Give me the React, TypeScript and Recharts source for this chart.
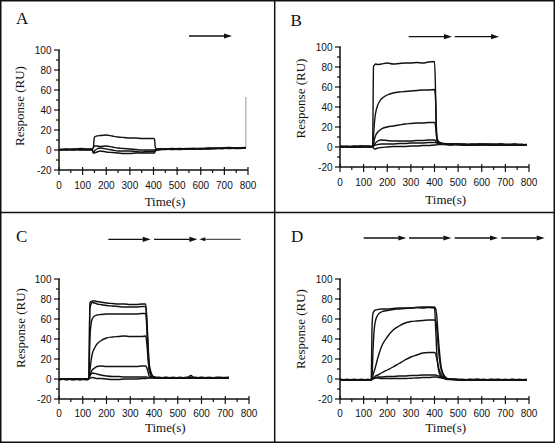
import { LineChart, Line, XAxis, YAxis, ReferenceLine } from "recharts";

// ---- data (time in s, response in RU) ----
const X_TICKS = [0, 50, 100, 150, 200, 250, 300, 350, 400, 450, 500, 550, 600, 650, 700, 750, 800];
const Y_TICKS = [-20, -10, 0, 10, 20, 30, 40, 50, 60, 70, 80, 90, 100];

const timesA = [0, 30, 60, 90, 120, 140, 145, 150, 160, 175, 200, 225, 250, 275, 300, 325, 350, 375, 400, 404, 408, 420, 450, 480, 510, 540, 570, 600, 630, 660, 690, 720, 750, 790];
const a1 = [0.5, 1, 0.5, 1.5, 1, 1, 2, 13, 14, 14.5, 15, 14, 13, 12.5, 12, 12, 11.5, 11.5, 11.5, 11, 2, 1, 1, 1.5, 1, 1.5, 1.5, 1, 2, 1.5, 2, 2.5, 2, 2.5];
const a2 = [0, 0.5, 0, 1, 0.5, 0.5, 2, 4, 4, 3.5, 4, 3, 2, 1.5, 1, 0.5, 0, 0, 0, 0, 0.5, 1, 1, 1, 1.5, 1, 1.5, 1.5, 1.5, 2, 1.5, 2, 2, 2];
const a3 = [0.5, 0, 1, 0.5, 0, 0.5, -3, -1, 1, 2, 1, 0, -1, -1, -1, -1.5, -2, -1.5, -1.5, -1.5, 0, 0.5, 1, 0.5, 1, 1, 1, 1.5, 1, 1.5, 2, 1.5, 2, 2];
const a4 = [0, 0.5, 0.5, 0, 0.5, 0, -2, -3, -2, -1, -2, -2.5, -3, -3.5, -3.5, -3, -3, -3, -3, -3, -1, 0, 0.5, 1, 0.5, 1, 1, 1, 1.5, 1.5, 1.5, 2, 1.5, 2];

const timesB = [0, 30, 60, 90, 120, 138, 142, 146, 150, 160, 175, 200, 225, 250, 275, 300, 325, 350, 375, 400, 404, 408, 412, 420, 440, 470, 500, 530, 560, 590, 620, 650, 680, 710, 740, 770, 790];
const b1 = [0.5, 0, 1, 0, 0.5, 1, 81, 82, 83, 82.5, 83, 84, 83, 83.5, 84, 84, 84.5, 84, 85, 85.5, 60, 15, 6, 4, 3, 3, 2.5, 3, 2, 3, 2.5, 2, 3, 2.5, 2, 2.5, 2];
const b2 = [0, 0.5, 0, 1, 0, 0.5, 12, 25, 33, 42, 48, 52, 54, 55, 55.5, 56, 56.5, 57, 57, 57.5, 50, 20, 8, 5, 3.5, 3, 2.5, 2.5, 3, 2, 2.5, 3, 2, 2.5, 3, 2, 2.5];
const b3 = [1, 0.5, 0, 0.5, 1, 0, 3, 8, 11, 15, 18, 20, 21, 22, 23, 23.5, 24, 24, 24.5, 24.5, 22, 12, 6, 4, 3, 2.5, 3, 2, 2.5, 2.5, 2, 2.5, 3, 2, 2.5, 2.5, 2];
const b4 = [0, 0.5, 0.5, 0, 0.5, 0.5, 1, 3, 4, 6, 7, 6.5, 6, 6, 6, 6, 6.5, 6.5, 7, 7, 6.5, 5, 4, 3.5, 3, 3, 2.5, 2, 2.5, 3, 2.5, 2, 2.5, 2, 2.5, 2, 2.5];
const b5 = [0.5, 0, 0.5, 1, 0, 0.5, 1, 1.5, 2, 2.5, 3, 3, 3, 3.5, 3.5, 4, 4, 4, 4.5, 4.5, 4.5, 4, 4, 3, 3, 2.5, 3, 2.5, 2, 2.5, 3, 2.5, 2, 2.5, 2, 2.5, 2];
const b6 = [0, 0.5, 0, 0.5, 0.5, 0, -1, -2, -2, -1, -0.5, 0, 0.5, 0.5, 0.5, 1, 1, 1.5, 1.5, 2, 2, 2, 2.5, 2.5, 2.5, 2, 2.5, 2, 2.5, 2, 2.5, 2, 2.5, 2, 2.5, 2, 2];

const timesC = [0, 30, 60, 90, 110, 122, 126, 130, 135, 140, 150, 160, 175, 200, 225, 250, 275, 300, 325, 350, 365, 370, 375, 380, 390, 400, 420, 450, 480, 510, 540, 555, 570, 600, 630, 670, 715];
const c1 = [-0.5, 0, -0.5, 0, -0.5, 0, 2, 76, 77.5, 78, 78, 77.5, 77, 76, 75.5, 75, 75, 74.5, 74.5, 75, 75, 60, 35, 15, 5, 2, 1.5, 1, 1.5, 1, 1.5, 1.5, 1, 1.5, 1, 1.5, 1.5];
const c2 = [0, -0.5, 0, -0.5, 0, -0.5, 1, 70, 75, 76.5, 76, 75, 74.5, 73.5, 73, 72.5, 72, 72, 72, 72.5, 72.5, 55, 30, 12, 4, 2, 1, 1.5, 1, 1.5, 1, 3.5, 1, 1, 1.5, 1, 1];
const c3 = [-0.5, 0, -0.5, 0, 0, -0.5, 1, 40, 55, 60, 63, 64, 64.5, 65, 65, 65, 65, 65, 65, 65.5, 65.5, 50, 25, 10, 3, 1.5, 1, 1, 1.5, 1, 1, 1.5, 1, 1.5, 1, 1, 1.5];
const c4 = [0, -0.5, 0, -0.5, 0, 0, 1, 8, 18, 25, 31, 35, 38, 41, 42, 42.5, 43, 42.5, 42.5, 42.5, 43, 35, 20, 8, 3, 1.5, 1, 1.5, 1, 1, 1.5, 1, 1.5, 1, 1.5, 1, 1];
const c5 = [-0.5, 0, 0, -0.5, 0, 0, 0.5, 3, 7, 9, 11, 12.5, 13, 12.5, 12.5, 12.5, 12.5, 12.5, 12.5, 13, 13, 11, 7, 3, 2, 1, 1.5, 1, 1, 1.5, 1, 1, 1.5, 1, 1, 1.5, 1];
const c6 = [0, -0.5, 0, 0, -0.5, 0, 0.5, 3, 5, 6, 5.5, 5, 4, 3, 2.5, 2.5, 2, 2, 2, 2, 2, 2, 1.5, 1.5, 1.5, 1, 1, 1.5, 1, 1, 1.5, 1, 1, 1.5, 1, 1, 1.5];
const c7 = [-0.5, 0, -0.5, 0, 0, -0.5, 0, 1, 1, 1.5, 1, 0.5, 0.5, 0, -0.5, -0.5, 0, 0, 0, 0.5, 0.5, 0.5, 1, 1, 1, 1, 1.5, 1, 1, 1, 1, 1, 1.5, 1, 1, 1.5, 1];

const timesD = [0, 30, 60, 90, 120, 132, 136, 140, 145, 150, 160, 175, 200, 225, 250, 275, 300, 325, 350, 375, 400, 405, 410, 415, 420, 430, 445, 460, 490, 520, 550, 580, 610, 640, 670, 700, 730, 760, 790];
const d1 = [-1, -1, -0.5, -1, -1, 0, 55, 66, 68, 69, 69.5, 70, 70, 70.5, 71, 71, 71, 71.5, 71, 71.5, 71, 50, 25, 12, 6, 2, 0, -0.5, -0.5, -1, -0.5, -1, -0.5, -1, -0.5, -1, -0.5, -1, -1];
const d2 = [-1, -0.5, -1, -1, -0.5, -1, 5, 30, 50, 58, 64, 67, 68.5, 69.5, 70, 70.5, 71, 71.5, 72, 72, 72, 70, 62, 45, 30, 10, 2, 0, -0.5, -1, -0.5, -0.5, -1, -0.5, -1, -0.5, -1, -0.5, -1];
const d3 = [-0.5, -1, -1, -0.5, -1, -1, 1, 4, 8, 12, 21, 32, 42, 49, 53, 56, 57.5, 58, 58.5, 59, 59, 58, 50, 35, 22, 8, 2, 0, -0.5, -0.5, -1, -0.5, -1, -0.5, -1, -1, -0.5, -1, -0.5];
const d4 = [-1, -1, -0.5, -1, -1, -1, 0, 1, 2, 3, 4, 6, 9, 12, 15.5, 19, 22, 24, 26, 26.5, 26.5, 25, 20, 14, 9, 4, 1, 0, -0.5, -1, -0.5, -1, -1, -0.5, -0.5, -1, -1, -0.5, -1];
const d5 = [-1, -0.5, -1, -1, -0.5, -1, -0.5, 0, 1, 1.5, 2, 2, 2.5, 2.5, 3, 3, 3.5, 3.5, 4, 4, 4, 4, 3.5, 3, 3, 2, 1, 0, -0.5, -0.5, -1, -0.5, -1, -1, -0.5, -1, -0.5, -1, -1];
const d6 = [-0.5, -1, -1, -0.5, -1, -1, -0.5, 0.5, 0.5, 1, 1, 0.5, 0.5, 0.5, 0.5, 0.5, 0.8, 1, 1.5, 1.5, 2, 2, 2, 1.5, 1.5, 1, 0.5, 0, -0.5, -1, -1, -0.5, -0.5, -1, -1, -0.5, -1, -1, -0.5];

const INK = "#111";
const SANS = "'Liberation Sans', Arial, sans-serif";
const SERIF = "'Liberation Serif', 'Times New Roman', serif";

function XTick(p: any) {
  const { x, y, payload, dy } = p;
  const v = payload.value;
  const major = v % 100 === 0;
  return (
    <g>
      <line x1={x} x2={x} y1={y - (major ? 3 : 0)} y2={y + (major ? 5 : 3)} stroke={INK} strokeWidth={1.2} />
      {major && (
        <text x={x} y={y + dy} textAnchor="middle" fontSize={10} fontFamily={SANS} fill={INK}>{v}</text>
      )}
    </g>
  );
}

function YTick(p: any) {
  const { x, y, payload } = p;
  const v = payload.value;
  const major = v % 20 === 0;
  return (
    <g>
      <line x1={x - (major ? 5 : 3)} x2={x + (major ? 1 : 0)} y1={y} y2={y} stroke={INK} strokeWidth={1.2} />
      {major && (
        <text x={x - 7.5} y={y + 3.6} textAnchor="end" fontSize={10} fontFamily={SANS} fill={INK}>{v}</text>
      )}
    </g>
  );
}

function Sensorgram({ left, top, plotW = 189, labelDy = 19, times, series, children }: any) {
  const rows = times.map((t: number, i: number) => {
    const r: any = { t };
    series.forEach((s: number[], k: number) => { r["s" + k] = s[i]; });
    return r;
  });
  return (
    <div style={{ position: "absolute", left: left - 50, top: top - 10 }}>
      <LineChart width={plotW + 60} height={160} data={rows} margin={{ top: 10, right: 10, bottom: 0, left: 0 }}>
        <XAxis dataKey="t" type="number" domain={[0, 800]} ticks={X_TICKS} interval={0} height={30}
          tickSize={0} tickMargin={0} tickLine={false} tick={(q: any) => <XTick {...q} dy={labelDy} />}
          axisLine={{ stroke: INK, strokeWidth: 1.5 }} allowDataOverflow />
        <YAxis type="number" domain={[-20, 100]} ticks={Y_TICKS} interval={0} width={50}
          tickSize={0} tickMargin={0} tickLine={false} tick={(q: any) => <YTick {...q} />}
          axisLine={{ stroke: INK, strokeWidth: 1.5 }} allowDataOverflow />
        {children}
        {series.map((_: number[], k: number) => (
          <Line key={k} dataKey={"s" + k} type="monotone" stroke={INK} strokeWidth={1.4}
            dot={false} activeDot={false} isAnimationActive={false} />
        ))}
      </LineChart>
    </div>
  );
}

function Arrow({ from, tip, y, thin }: { from: number; tip: number; y: number; thin?: boolean }) {
  const dir = tip > from ? 1 : -1;
  const hl = thin ? 6 : 8;
  const hh = thin ? 2 : 2.6;
  const base = tip - dir * hl;
  return (
    <g>
      <line x1={from} x2={base} y1={y} y2={y} stroke={INK} strokeWidth={thin ? 0.9 : 1.3} />
      <polygon points={`${tip},${y} ${base},${y - hh} ${base},${y + hh}`} fill={INK} />
    </g>
  );
}

function YTitle({ x, y }: { x: number; y: number }) {
  return (
    <text x={x} y={y} transform={`rotate(-90 ${x} ${y})`} textAnchor="middle" dominantBaseline="central"
      fontSize={13} fontFamily={SERIF} fill={INK}>Response (RU)</text>
  );
}

function XTitle({ x, y }: { x: number; y: number }) {
  return (
    <text x={x} y={y} textAnchor="middle" dominantBaseline="central" fontSize={13} fontFamily={SERIF} fill={INK}>Time(s)</text>
  );
}

function Letter({ x, y, s }: { x: number; y: number; s: string }) {
  return <text x={x} y={y} fontSize={17} fontFamily={SERIF} fill={INK}>{s}</text>;
}

export default function App() {
  return (
    <div style={{ position: "absolute", left: 0, top: 0, width: 556, height: 444, background: "#fff" }}>
      <Sensorgram left={59} top={50} times={timesA} series={[a1, a2, a3, a4]}>
        <ReferenceLine segment={[{ x: 791, y: 2 }, { x: 791, y: 53 }]} stroke="#999" strokeWidth={1} ifOverflow="visible" />
      </Sensorgram>
      <Sensorgram left={340} top={47} times={timesB} series={[b1, b2, b3, b4, b5, b6]} />
      <Sensorgram left={59} top={279} plotW={190} labelDy={17.5} times={timesC} series={[c1, c2, c3, c4, c5, c6, c7]} />
      <Sensorgram left={340} top={279} labelDy={17.5} times={timesD} series={[d1, d2, d3, d4, d5, d6]} />

      <svg width={556} height={444} style={{ position: "absolute", left: 0, top: 0, pointerEvents: "none" }}>
        <rect x={0.75} y={0.75} width={553.5} height={441.5} fill="none" stroke={INK} strokeWidth={1.5} />
        <line x1={274.7} x2={274.7} y1={0} y2={442} stroke={INK} strokeWidth={1.5} />
        <line x1={0} x2={554} y1={212.5} y2={212.5} stroke={INK} strokeWidth={1.5} />

        <Letter x={16} y={23.5} s="A" />
        <Letter x={290.5} y={26} s="B" />
        <Letter x={16} y={242} s="C" />
        <Letter x={291} y={242} s="D" />

        <YTitle x={19.5} y={106} />
        <YTitle x={300.5} y={98.5} />
        <YTitle x={20} y={328} />
        <YTitle x={300.5} y={329} />

        <XTitle x={165} y={201} />
        <XTitle x={445.7} y={199} />
        <XTitle x={165.3} y={427.5} />
        <XTitle x={445.7} y={427.5} />

        <Arrow from={189} tip={232} y={36} />
        <Arrow from={408.7} tip={452} y={36.7} />
        <Arrow from={454.7} tip={499} y={36.7} />
        <Arrow from={108.3} tip={150.7} y={239.3} />
        <Arrow from={154} tip={197.3} y={239.3} />
        <Arrow from={240.7} tip={199.3} y={239.3} thin />
        <Arrow from={363.7} tip={406.3} y={238} />
        <Arrow from={409} tip={451.3} y={238} />
        <Arrow from={454.7} tip={498} y={238} />
        <Arrow from={501.3} tip={544.7} y={238} />
      </svg>
    </div>
  );
}
